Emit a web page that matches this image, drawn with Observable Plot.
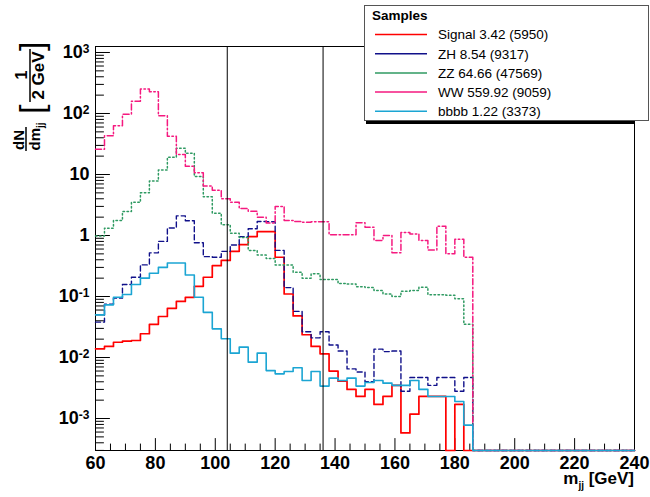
<!DOCTYPE html>
<html>
<head>
<meta charset="utf-8">
<script src="https://cdn.jsdelivr.net/npm/d3@7"></script>
<script src="https://cdn.jsdelivr.net/npm/@observablehq/plot@0.6"></script>
<style>
  html, body { margin: 0; padding: 0; background: #ffffff; }
  svg { display: block; }
</style>
</head>
<body>
<div id="chart"></div>
<script>
// ---------- data ----------
// histogram bin edges (3 GeV bins, 60 -> 240 GeV)
const binEdges = d3.range(60, 241, 3);

const signal = [0.0139,0.0152,0.0178,0.0185,0.019,0.0245,0.035,0.047,0.064,0.083,0.097,0.147,0.207,0.32,0.39,0.55,0.71,0.96,1.16,1.16,0.44,0.11,0.048,0.0236,0.0152,0.0115,0.006,0.0041,0.003,0.0023,0.003,0.0017,0.0023,0.0035,0.00058,0.00118,0.0023,0.0023,0.0023,0,0.0017,0,
  0,0,0,0,0,0,0,0,0,0,0,0,0,0,0,0,0,0];
const zh = [0.038,0.075,0.094,0.157,0.207,0.33,0.52,0.8,1.33,2.1,1.75,0.76,0.45,0.44,0.55,0.7,0.96,1.29,1.7,1.68,0.57,0.14,0.057,0.0265,0.021,0.0265,0.016,0.0128,0.0065,0.0058,0.004,0.0137,0.0125,0.0128,0.0028,0.0047,0.0047,0.0035,0.0047,0.0047,0.0028,0.0047,
  0,0,0,0,0,0,0,0,0,0,0,0,0,0,0,0,0,0];
const zz = [0.98,1.32,1.76,2.47,3.5,5.0,7.8,11.8,19.2,27,22.3,9.3,4.3,2.32,1.5,1.09,0.93,0.57,0.48,0.42,0.33,0.33,0.25,0.2,0.235,0.19,0.19,0.163,0.16,0.145,0.14,0.125,0.11,0.1,0.122,0.125,0.142,0.107,0.107,0.105,0.092,0.035,
  0,0,0,0,0,0,0,0,0,0,0,0,0,0,0,0,0,0];
const ww = [26,43,63,97,159,251,227,92,42.5,21.3,13.7,10.7,6.5,5.5,4.0,3.5,2.77,2.5,2.0,1.6,3.0,1.76,1.7,1.65,1.68,1.68,1.03,1.03,1.03,1.62,1.37,0.83,1.0,0.52,1.12,1.06,0.83,0.58,1.42,0.5,0.87,0.44,
  0,0,0,0,0,0,0,0,0,0,0,0,0,0,0,0,0,0];
const bbbb = [0.05,0.073,0.097,0.108,0.157,0.2,0.24,0.3,0.355,0.355,0.225,0.097,0.055,0.0295,0.0203,0.0118,0.0148,0.0084,0.0118,0.0061,0.0054,0.0059,0.0068,0.0042,0.0059,0.0034,0.0046,0.0042,0.0046,0.0034,0.0039,0.0042,0.0038,0.0035,0.0035,0.0042,0.003,0.0023,0.0023,0.0023,0.0019,0.00078,
  0,0,0,0,0,0,0,0,0,0,0,0,0,0,0,0,0,0];

const legendTitle = "Samples";
const legendLabels = ["Signal 3.42 (5950)", "ZH 8.54 (9317)", "ZZ 64.66 (47569)", "WW 559.92 (9059)", "bbbb 1.22 (3373)"];

const cutLines = [104, 136];

const xTickValues = [60, 80, 100, 120, 140, 160, 180, 200, 220, 240];
const yTickValues = [1e-3, 1e-2, 1e-1, 1, 10, 1e2, 1e3];
const yTickLabels = ["10^-3", "10^-2", "10^-1", "1", "10", "10^2", "10^3"];

// ---------- styles ----------
const styles = [
  {values: signal, color: "#ff0000", dash: null,            width: 1.7},
  {values: zh,     color: "#10108a", dash: "5,3",           width: 1.4},
  {values: zz,     color: "#2f9a62", dash: "1.5,2.5",       width: 1.5},
  {values: ww,     color: "#f5197f", dash: "6,2.5,1.5,2.5", width: 1.5},
  {values: bbbb,   color: "#1ba5d3", dash: null,            width: 1.6}
];

const yMin = 2.99e-4, yMax = 1254;
const xMinor = d3.range(60, 241, 5).filter(v => v % 20 !== 0);
const yMinor = [];
for (let k = -4; k <= 3; k++) for (let m = 2; m <= 9; m++) {
  const v = m * Math.pow(10, k);
  if (v >= yMin && v <= yMax) yMinor.push(v);
}

function steps(values) {
  const pts = values.map((v, i) => ({x: binEdges[i], v}));
  pts.push({x: binEdges[values.length], v: values[values.length - 1]});
  return pts;
}
const yv = d => Math.max(d.v, yMin);
const tickShape = {draw(ctx, l) { ctx.moveTo(0, 0); ctx.lineTo(0, -l); }};
const FONT = "'Liberation Sans', Arial, Helvetica, sans-serif";

const svg = Plot.plot({
  width: 650,
  height: 497,
  marginLeft: 95,
  marginRight: 16,
  marginTop: 46,
  marginBottom: 47,
  x: {domain: [60, 240], axis: null},
  y: {type: "log", domain: [yMin, yMax], axis: null},
  style: {fontFamily: FONT, background: "#ffffff", overflow: "visible"},
  marks: [
    Plot.frame({stroke: "#000", strokeWidth: 1}),
    Plot.vector(xMinor, {x: d => d, frameAnchor: "bottom", length: 6.5, anchor: "start", shape: tickShape, stroke: "#000", strokeWidth: 1}),
    Plot.vector(xTickValues, {x: d => d, frameAnchor: "bottom", length: 12, anchor: "start", shape: tickShape, stroke: "#000", strokeWidth: 1}),
    Plot.vector(yMinor, {y: d => d, frameAnchor: "left", length: 8, rotate: 90, anchor: "start", shape: tickShape, stroke: "#000", strokeWidth: 1}),
    Plot.vector(yTickValues, {y: d => d, frameAnchor: "left", length: 14, rotate: 90, anchor: "start", shape: tickShape, stroke: "#000", strokeWidth: 1}),
    Plot.text(xTickValues, {x: d => d, frameAnchor: "bottom", dy: 13, lineAnchor: "middle", textAnchor: "middle",
      text: d => String(d), fontSize: 18, fontWeight: "bold", fill: "#000"}),
    Plot.text(yTickValues.map((v, i) => ({v, label: yTickLabels[i]})), {y: "v", frameAnchor: "left", dx: -6,
      textAnchor: "end", lineAnchor: "middle", text: "label", fontSize: 18, fontWeight: "bold", fill: "#000"}),
    ...styles.map(s => Plot.line(steps(s.values), {
      x: "x", y: yv, curve: "step-after", stroke: s.color, strokeWidth: s.width,
      strokeDasharray: s.dash
    })),
    Plot.ruleX(cutLines, {stroke: "#000", strokeWidth: 1})
  ]
});

const root = d3.select(svg);

// superscript exponents on y tick labels
root.selectAll("text").each(function() {
  const t = this.textContent;
  if (t.includes("^")) {
    const [base, exp] = t.split("^");
    const node = d3.select(this);
    const target = node.select("tspan").empty() ? node : node.select("tspan");
    target.text(base);
    target.append("tspan").attr("dy", "-0.42em").attr("font-size", 12).text(exp);
  }
});

// ---------- y-axis title ----------
const yt = root.append("g")
  .attr("transform", "translate(0,152) rotate(-90)")
  .attr("font-family", FONT).attr("font-weight", "bold").attr("fill", "#000");
yt.append("text").attr("x", 12).attr("y", 24).attr("text-anchor", "middle").attr("font-size", 15).text("dN");
yt.append("line").attr("x1", 1).attr("x2", 25).attr("y1", 26).attr("y2", 26).attr("stroke", "#000").attr("stroke-width", 1.5);
const dm = yt.append("text").attr("x", 1.5).attr("y", 39.5).attr("text-anchor", "start").attr("font-size", 15);
dm.append("tspan").text("dm");
dm.append("tspan").attr("dy", 4.5).attr("font-size", 10).text("jj");
yt.append("text").attr("x", 38).attr("y", 43).attr("text-anchor", "start").attr("font-size", 34).attr("font-weight", "normal").text("[");
yt.append("text").attr("x", 77).attr("y", 27).attr("text-anchor", "middle").attr("font-size", 16).text("1");
yt.append("line").attr("x1", 50).attr("x2", 103).attr("y1", 30).attr("y2", 30).attr("stroke", "#000").attr("stroke-width", 1.5);
yt.append("text").attr("x", 76.5).attr("y", 43.5).attr("text-anchor", "middle").attr("font-size", 17).text("2 GeV");
yt.append("text").attr("x", 101).attr("y", 43).attr("text-anchor", "start").attr("font-size", 34).attr("font-weight", "normal").text("]");

// ---------- x-axis title ----------
const xt = root.append("text").attr("x", 634).attr("y", 484).attr("text-anchor", "end")
  .attr("font-family", FONT).attr("font-weight", "bold").attr("font-size", 17).attr("fill", "#000");
xt.append("tspan").text("m");
xt.append("tspan").attr("dy", 5).attr("font-size", 10).text("jj");
xt.append("tspan").attr("dy", -5).text(" [GeV]");

// ---------- legend ----------
const lg = root.append("g").attr("font-family", FONT).attr("text-anchor", "start");
lg.append("rect").attr("x", 366).attr("y", 120).attr("width", 268).attr("height", 4).attr("fill", "#000");
lg.append("rect").attr("x", 364.5).attr("y", 5.5).attr("width", 284).attr("height", 115)
  .attr("fill", "#fff").attr("stroke", "#555").attr("stroke-width", 1);
lg.append("text").attr("x", 372).attr("y", 15).attr("dy", "0.35em").attr("text-anchor", "start").attr("font-size", 13.5)
  .attr("font-weight", "bold").attr("fill", "#000").text(legendTitle);
legendLabels.forEach((lab, i) => {
  const cy = 34.5 + 19.2 * i;
  lg.append("line").attr("x1", 375).attr("x2", 427).attr("y1", cy).attr("y2", cy)
    .attr("stroke", styles[i].color).attr("stroke-width", 1.5);
  lg.append("text").attr("x", 438).attr("y", cy).attr("dy", "0.36em").attr("text-anchor", "start").attr("font-size", 13.5)
    .attr("fill", "#000").text(lab);
});

document.getElementById("chart").appendChild(svg);
</script>
</body>
</html>
